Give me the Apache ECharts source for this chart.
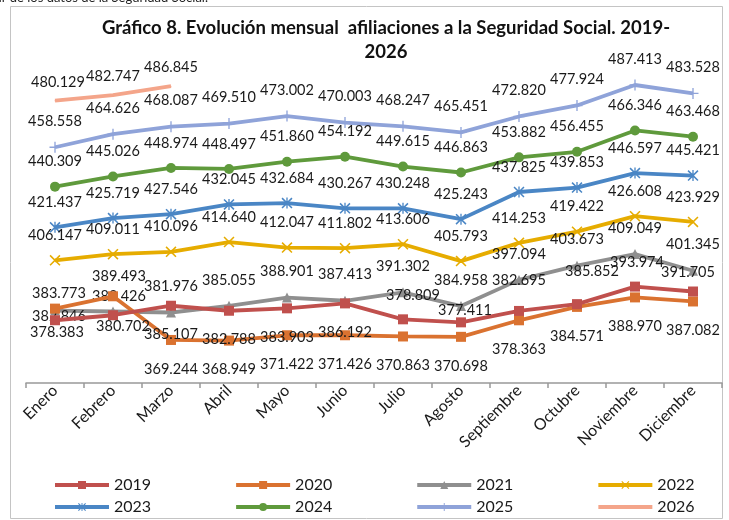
<!DOCTYPE html>
<html>
<head>
<meta charset="utf-8">
<script src="https://cdn.jsdelivr.net/npm/echarts@6/dist/echarts.min.js"></script>
<style>
html,body{margin:0;padding:0;background:#fff;}
#chart{width:729px;height:520px;}
</style>
</head>
<body>
<div id="chart"></div>
<script>
// ---- Data (miles de afiliados) ----
const months = ['Enero','Febrero','Marzo','Abril','Mayo','Junio','Julio','Agosto','Septiembre','Octubre','Noviembre','Diciembre'];
const seriesNames = ['2019','2020','2021','2022','2023','2024','2025','2026'];
const v2019 = [378.383, 380.702, 385.107, 382.788, 383.903, 386.192, 378.809, 377.411, 382.695, 385.852, 393.974, 391.705];
const v2020 = [383.773, 389.493, 369.244, 368.949, 371.422, 371.426, 370.863, 370.698, 378.363, 384.571, 388.970, 387.082];
const v2021 = [382.846, 382.426, 381.976, 385.055, 388.901, 387.413, 391.302, 384.958, 397.094, 403.673, 409.049, 401.345];
const v2022 = [406.147, 409.011, 410.096, 414.640, 412.047, 411.802, 413.606, 405.793, 414.253, 419.422, 426.608, 423.929];
const v2023 = [421.437, 425.719, 427.546, 432.045, 432.684, 430.267, 430.248, 425.243, 437.825, 439.853, 446.597, 445.421];
const v2024 = [440.309, 445.026, 448.974, 448.497, 451.860, 454.192, 449.615, 446.863, 453.882, 456.455, 466.346, 463.468];
const v2025 = [458.558, 464.626, 468.087, 469.510, 473.002, 470.003, 468.247, 465.451, 472.820, 477.924, 487.413, 483.528];
const v2026 = [480.129, 482.747, 486.845];
const values = [v2019, v2020, v2021, v2022, v2023, v2024, v2025, v2026];

// ---- Styles (kept apart from the data) ----
const colors = ['#C0504D','#DA7230','#8F8F8F','#E6AC00','#4A86C5','#5F9A3C','#8FA3D9','#F4A58A'];
const SYM_X = 'path://M0,1 L1,0 L10,9 L9,10 Z M9,0 L10,1 L1,10 L0,9 Z';
const SYM_AST = 'path://M0,1 L1,0 L10,9 L9,10 Z M9,0 L10,1 L1,10 L0,9 Z M4.4,0 L5.6,0 L5.6,10 L4.4,10 Z';
const SYM_PLUS = 'path://M4.4,0 L5.6,0 L5.6,10 L4.4,10 Z M0,4.4 L10,4.4 L10,5.6 L0,5.6 Z';
const symbols = ['rect','rect','triangle',SYM_X,SYM_AST,'circle',SYM_PLUS,'circle'];
const symbolSizes = [10,10,10,11,11,10,11,1];
// default label offset per series [dx, dy]
const labelDefault = [[0,29],[0,29],[0,-26],[0,-25],[0,-25],[0,-25],[0,-26],[0,-19]];
// manual label moves (month index -> [dx, dy]), as in the original chart
const labelMoves = [
  {0:[2,12],1:[10,11],6:[10,-24],7:[4,-12],8:[0,-31],9:[15,-33],10:[2,-24],11:[-5,-19]},
  {0:[4,-15],1:[6,-20]},
  {0:[4,6],1:[6,-15]},
  {}, {}, {}, {},
  {0:[3,-18]}
];

function fmt(v){ return v.toFixed(3); }

const series = values.map(function(arr, i){
  const data = arr.map(function(v, j){
    const off = labelMoves[i][j] || labelDefault[i];
    return { value: v, label: { offset: off } };
  });
  return {
    name: seriesNames[i],
    type: 'line',
    data: data,
    symbol: symbols[i],
    symbolSize: symbolSizes[i],
    showAllSymbol: true,
    lineStyle: { color: colors[i], width: 3.8 },
    itemStyle: { color: colors[i] },
    emphasis: { disabled: true },
    animation: false,
    z: 10 - i,
    label: {
      show: true,
      position: 'inside',
      formatter: function(p){ return fmt(p.value); },
      fontFamily: 'Lato',
      fontSize: 14.5,
      color: '#1a1a1a'
    }
  };
});

function legendItem(name){
  // 2026 has no marker in the original legend
  return name === '2026' ? { name: name, itemStyle: { opacity: 0 } } : { name: name };
}

const legendCommon = {
  itemWidth: 54,
  itemHeight: 10,
  itemGap: 83,
  padding: 0,
  lineStyle: { width: 4 },
  textStyle: { fontFamily: 'Lato', fontSize: 16, color: '#1a1a1a' },
  selectedMode: false
};

const chart = echarts.init(document.getElementById('chart'), null, { renderer: 'canvas' });
chart.setOption({
  backgroundColor: '#fff',
  animation: false,
  title: {
    text: 'Gráfico 8. Evolución mensual  afiliaciones a la Seguridad Social. 2019-\n2026',
    left: 381,
    top: 11,
    textAlign: 'center',
    textStyle: { fontFamily: 'Lato', fontWeight: 'bold', fontSize: 18.5, lineHeight: 24, color: '#111' }
  },
  legend: [
    Object.assign({ data: seriesNames.slice(0,4).map(legendItem), left: 53, top: 477 }, legendCommon),
    Object.assign({ data: seriesNames.slice(4,8).map(legendItem), left: 53, top: 499 }, legendCommon)
  ],
  grid: { left: 26, right: 7, top: 36, bottom: 137, containLabel: false },
  xAxis: {
    type: 'category',
    data: months,
    boundaryGap: true,
    axisLine: { lineStyle: { color: '#999', width: 1.5 } },
    axisTick: { show: true, length: 5, lineStyle: { color: '#999', width: 1.5 } },
    axisLabel: { rotate: 45, margin: 5, fontFamily: 'Lato', fontSize: 16, color: '#1a1a1a', interval: 0 }
  },
  yAxis: {
    type: 'value',
    min: 349.3,
    max: 510.12,
    show: false,
    splitLine: { show: false }
  },
  graphic: [
    { type: 'rect', shape: { x: 10.5, y: 6.5, width: 712, height: 512 }, style: { fill: 'none', stroke: '#C4C4C4', lineWidth: 1 }, z: -1 },
    { type: 'text', x: 208, y: 4, style: { text: 'Fuente: elaboración propia a partir de los datos de la Seguridad Social.', align: 'right', verticalAlign: 'bottom', fontFamily: 'Lato', fontSize: 13, fill: '#222' } }
  ],
  series: series
});
</script>
</body>
</html>
